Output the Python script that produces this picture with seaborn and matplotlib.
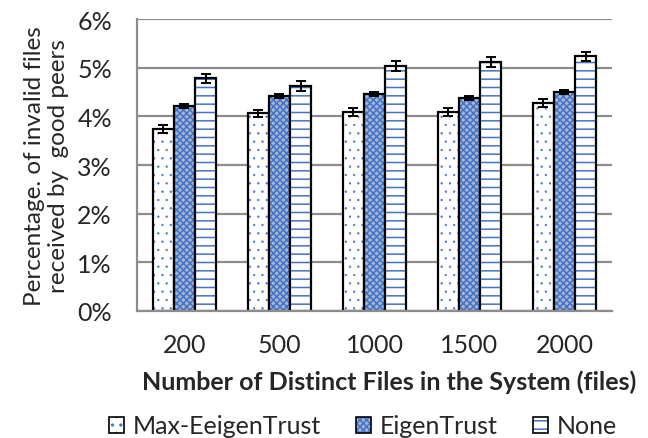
import numpy as np
import pandas as pd
import matplotlib
matplotlib.use('Agg')
import matplotlib.pyplot as plt
import matplotlib.colors as mcolors
from matplotlib.patches import Patch
import seaborn as sns

sns.set_style("white")
plt.rcParams['font.family'] = ['Lato', 'DejaVu Sans']
plt.rcParams['hatch.linewidth'] = 1.1

# data
file_counts = ['200', '500', '1000', '1500', '2000']
schemes = ['Max-EeigenTrust', 'EigenTrust', 'None']
max_eigen = [3.74, 4.06, 4.09, 4.09, 4.27]
eigen = [4.22, 4.41, 4.46, 4.37, 4.50]
none = [4.78, 4.63, 5.03, 5.11, 5.23]
max_eigen_err = [0.08, 0.08, 0.08, 0.08, 0.08]
eigen_err = [0.04, 0.04, 0.04, 0.04, 0.04]
none_err = [0.10, 0.10, 0.10, 0.10, 0.10]

df = pd.DataFrame({
    'files': file_counts * 3,
    'scheme': [s for s in schemes for _ in file_counts],
    'pct': max_eigen + eigen + none,
    'err': max_eigen_err + eigen_err + none_err,
})

blue = '#4472C4'
faces = {'Max-EeigenTrust': 'white', 'EigenTrust': '#9bb4e0', 'None': 'white'}
hatches = {'Max-EeigenTrust': '..', 'EigenTrust': 'xxxxx', 'None': '--'}
hatch_lw = {'Max-EeigenTrust': 0.4, 'EigenTrust': 1.1, 'None': 1.1}

fig = plt.figure(figsize=(6.48, 4.39), dpi=100)
ax = fig.add_axes([0.2114, 0.2893, 0.7330, 0.6651])

sns.barplot(data=df, x='files', y='pct', hue='scheme', hue_order=schemes,
            order=file_counts, width=0.67, palette=faces, edgecolor='black',
            linewidth=1.6, errorbar=None, legend=False, ax=ax)

# style each bar and add error bars at the bar centres
for container, s in zip(ax.containers, schemes):
    sub = df[df.scheme == s].set_index('files').loc[file_counts]
    xs = []
    for bar in container:
        bar.set_hatch(hatches[s])
        bar._hatch_color = mcolors.to_rgba(blue)
        bar._hatch_linewidth = hatch_lw[s]
        xs.append(bar.get_x() + bar.get_width() / 2)
    ax.errorbar(xs, sub['pct'].values, yerr=sub['err'].values, fmt='none',
                ecolor='black', elinewidth=1.4, capsize=3.5, capthick=1.4, zorder=5)

ax.set_ylim(0, 6)
ax.set_xlim(-0.5, 4.5)
ax.set_yticks(range(0, 7))
ax.set_yticklabels([f'{i}%' for i in range(0, 7)])
ax.yaxis.grid(True, color='#8c8c8c', linewidth=1.6)
ax.set_axisbelow(True)
for side in ['top', 'right']:
    ax.spines[side].set_visible(False)
for side in ['left', 'bottom']:
    ax.spines[side].set_color('#8c8c8c')
    ax.spines[side].set_linewidth(1.6)

# ticks between categories on x, outward ticks on y
ax.set_xticks(np.arange(-0.5, 5, 1), minor=True)
ax.tick_params(axis='x', which='minor', length=8, width=1.6, color='#8c8c8c', direction='out')
ax.tick_params(axis='x', which='major', length=0, labelsize=18, pad=16)
ax.tick_params(axis='y', length=8, width=1.6, color='#8c8c8c', direction='out', labelsize=18, pad=10)

ax.set_xlabel('Number of Distinct Files in the System (files)', fontsize=18, fontweight='bold', labelpad=16)
ax.xaxis.set_label_coords(0.53, -0.2)
ax.set_ylabel('Percentage. of invalid files\nreceived by  good peers', fontsize=17.5, labelpad=6, linespacing=1.15)

handles = [Patch(facecolor=faces[s], edgecolor='black', hatch=hatches[s], linewidth=1.2) for s in schemes]
for h, s in zip(handles, schemes):
    h._hatch_color = mcolors.to_rgba(blue)
    h._hatch_linewidth = hatch_lw[s]
fig.legend(handles, schemes, loc='lower center', bbox_to_anchor=(0.56, -0.05), ncol=3,
           frameon=False, fontsize=18, handlelength=0.6, handleheight=0.6,
           handletextpad=0.35, columnspacing=1.4)

plt.savefig('out.png', dpi=100)
